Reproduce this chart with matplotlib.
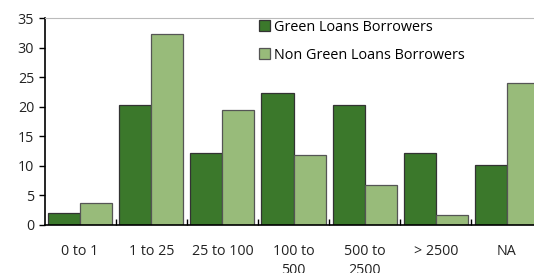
import matplotlib
matplotlib.use("Agg")
import matplotlib.pyplot as plt
import numpy as np

categories = ["0 to 1", "1 to 25", "25 to 100", "100 to\n500", "500 to\n2500", "> 2500", "NA"]
green = [2.0, 20.3, 12.2, 22.3, 20.3, 12.2, 10.2]
non_green = [3.7, 32.3, 19.5, 11.9, 6.8, 1.7, 24.0]
series_names = ["Green Loans Borrowers", "Non Green Loans Borrowers"]

plt.rcParams['font.family'] = ['Open Sans', 'DejaVu Sans']
fig = plt.figure(figsize=(5.34, 2.73), dpi=100)
ax = fig.add_axes([44.5/534, 1-225/273, 498/534, 207/273])

x = np.arange(len(categories))
w = 0.45
ax.bar(x - w/2, green, width=w, color="#3b782b", edgecolor="#333333", linewidth=0.9, label=series_names[0])
ax.bar(x + w/2, non_green, width=w, color="#98bb7a", edgecolor="#555555", linewidth=0.9, label=series_names[1])

ax.set_xlim(-0.5, len(categories) - 0.5)
ax.set_ylim(0, 35)
ax.set_yticks(range(0, 36, 5))
ax.set_xticks(x)
ax.set_xticklabels(categories, fontsize=10.3, color="#222222", linespacing=1.3)
ax.set_xticks(np.arange(0.5, len(categories) - 0.5, 1), minor=True)
ax.tick_params(axis='x', which='major', length=0, pad=14)
ax.tick_params(axis='x', which='minor', direction='in', length=4, width=1, color='black')
ax.tick_params(axis='y', direction='out', length=4, width=1, labelsize=10.3, labelcolor="#222222")

ax.spines['right'].set_visible(False)
ax.spines['top'].set_color('#bbbbbb')
ax.spines['top'].set_linewidth(0.8)
ax.spines['left'].set_linewidth(1.2)
ax.spines['bottom'].set_linewidth(1.2)

ax.legend(loc='upper left', bbox_to_anchor=(204/498, 1.04), frameon=False, fontsize=10.4,
          handlelength=0.8, handleheight=0.8, handletextpad=0.25, labelspacing=0.9,
          borderpad=0.2)

fig.savefig("out.png", dpi=100)
